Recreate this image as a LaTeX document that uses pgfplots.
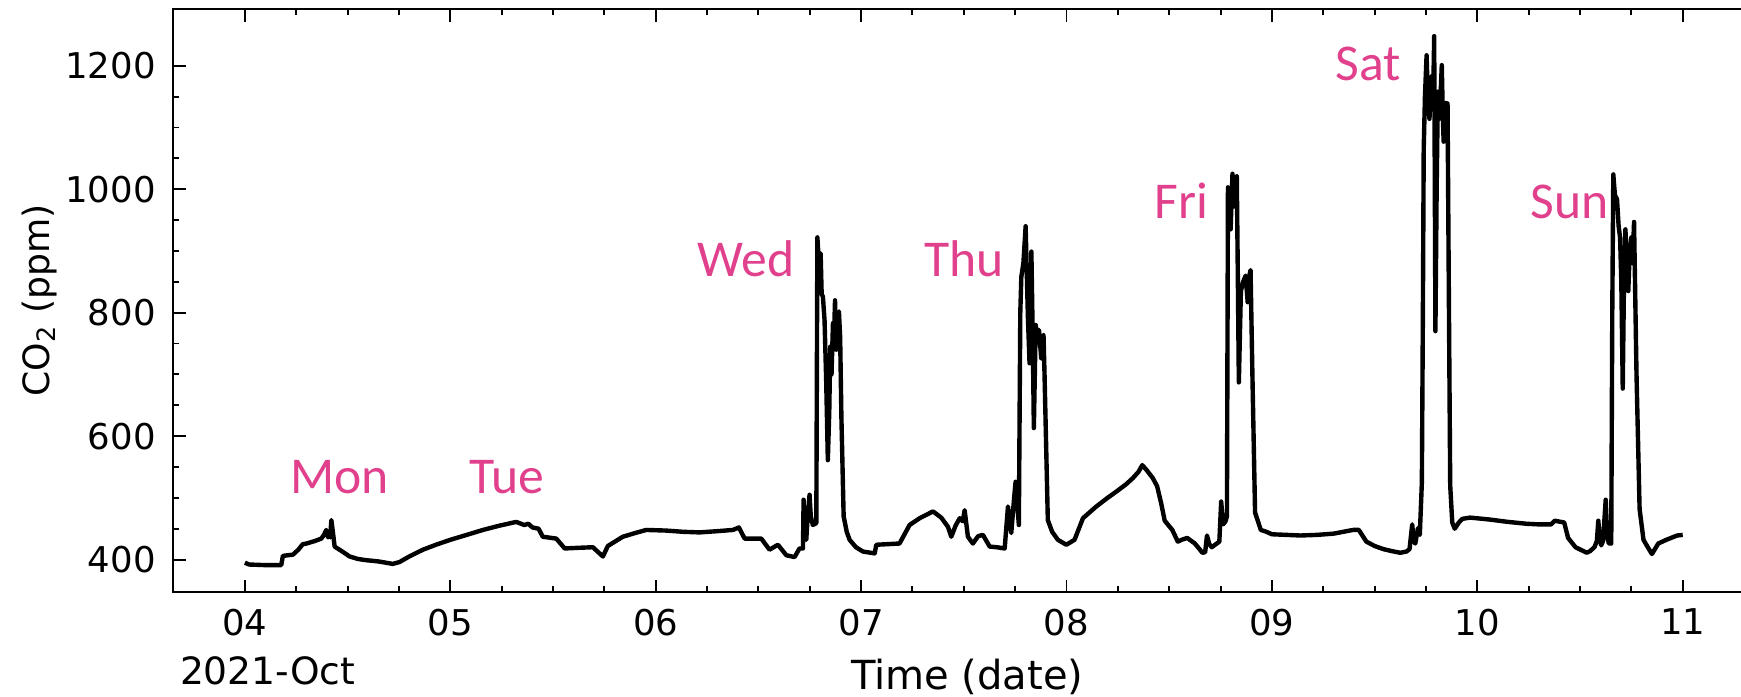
\documentclass[border=0pt]{standalone}
\usepackage{pgfplots}
\pgfplotsset{compat=1.18}
\usepackage{fontspec}
\setmainfont{DejaVu Sans}
\newfontfamily\dayfont{Carlito}
\definecolor{daypink}{RGB}{224,64,140}

\begin{document}
\begin{tikzpicture}
% the reference is cut just inside the right edge of the axis box
\clip (-17.3mm,-10.47mm) rectangle (156.8mm,59.23mm);
\begin{axis}[
    at={(0,0)}, anchor=south west,
    scale only axis,
    width=158.16mm, height=58.33mm,
    xmin=3.65, xmax=11.35,
    ymin=347, ymax=1292,
    xtick={4,5,6,7,8,9,10,11},
    xticklabels={04,05,06,07,08,09,10,11},
    ytick={400,600,800,1000,1200},
    minor x tick num=3,
    minor y tick num=3,
    tick align=inside,
    tick pos=both,
    major tick length=1.27mm,
    minor tick length=0.6mm,
    axis line style={line width=0.55pt},
    every tick/.style={black, line width=0.55pt},
    tick label style={font=\fontsize{10.1}{12}\selectfont},
    /pgf/number format/assume math mode=true,
    /pgf/number format/1000 sep={},
    xticklabel style={yshift=-1.2pt},
    yticklabel style={xshift=-1.4pt},
]

\addplot[black, line width=1.25pt, line join=round] coordinates {
    (4.00,395) (4.02,392) (4.10,391) (4.177,391) (4.185,406) (4.234,408)
    (4.26,416) (4.282,425) (4.30,426) (4.34,430) (4.372,434) (4.385,440)
    (4.396,448) (4.405,436) (4.41,440) (4.415,436) (4.421,464) (4.43,440)
    (4.437,421) (4.47,414) (4.51,405) (4.55,401) (4.59,399) (4.65,397)
    (4.72,393) (4.753,396) (4.80,405) (4.867,416) (4.93,424) (5.0,432)
    (5.08,440) (5.159,448) (5.24,455) (5.321,461) (5.36,456) (5.38,458)
    (5.40,452) (5.43,450) (5.45,437) (5.516,434) (5.557,418) (5.62,419)
    (5.694,420) (5.743,405) (5.767,422) (5.84,437) (5.90,443) (5.954,448)
    (6.05,447) (6.133,445) (6.213,444) (6.30,446) (6.376,448) (6.405,452)
    (6.433,434) (6.514,434) (6.554,416) (6.595,424) (6.636,407) (6.676,404)
    (6.70,418) (6.717,418) (6.72,497) (6.726,440) (6.733,432) (6.74,470)
    (6.749,505) (6.755,470) (6.765,456) (6.782,459) (6.787,922) (6.795,880)
    (6.803,896) (6.808,830) (6.814,826) (6.822,788) (6.83,690) (6.838,561)
    (6.845,640) (6.85,745) (6.856,700) (6.863,783) (6.868,760) (6.873,820)
    (6.879,740) (6.885,790) (6.892,802) (6.898,760) (6.904,632) (6.915,470)
    (6.93,445) (6.944,432) (6.975,420) (7.009,413) (7.066,410) (7.074,424)
    (7.13,425) (7.187,426) (7.236,456) (7.285,467) (7.35,478) (7.39,468)
    (7.423,453) (7.439,437) (7.46,455) (7.48,467) (7.495,462) (7.504,480)
    (7.52,437) (7.544,426) (7.57,438) (7.593,440) (7.626,421) (7.66,420)
    (7.699,418) (7.715,486) (7.731,443) (7.745,500) (7.752,526) (7.768,456)
    (7.775,800) (7.78,858) (7.79,880) (7.801,940) (7.812,793) (7.82,718)
    (7.829,899) (7.836,750) (7.841,613) (7.85,780) (7.858,760) (7.866,772)
    (7.877,726) (7.882,760) (7.888,764) (7.893,700) (7.909,464) (7.93,445)
    (7.958,432) (7.999,424) (8.039,432) (8.08,467) (8.145,486) (8.20,500)
    (8.242,510) (8.29,522) (8.323,532) (8.35,542) (8.369,553) (8.39,545)
    (8.42,532) (8.441,519) (8.461,491) (8.478,463) (8.515,448) (8.542,429)
    (8.56,432) (8.588,435) (8.625,426) (8.662,411) (8.675,412) (8.684,439)
    (8.695,425) (8.707,420) (8.744,429) (8.753,494) (8.762,457) (8.774,462)
    (8.781,470) (8.786,1003) (8.793,960) (8.799,935) (8.808,1025) (8.814,990)
    (8.819,972) (8.824,1000) (8.829,1021) (8.834,860) (8.839,687) (8.849,835)
    (8.86,850) (8.872,860) (8.882,817) (8.89,860) (8.896,869) (8.905,700)
    (8.918,476) (8.946,448) (8.973,445) (9.0,441) (9.07,440) (9.139,439)
    (9.22,440) (9.30,442) (9.395,448) (9.423,448) (9.46,429) (9.50,422)
    (9.542,417) (9.58,414) (9.625,411) (9.655,413) (9.67,417) (9.683,457)
    (9.69,430) (9.698,426) (9.711,451) (9.72,440) (9.73,525) (9.735,800)
    (9.739,1065) (9.745,1150) (9.753,1217) (9.76,1140) (9.767,1114) (9.772,1150)
    (9.778,1183) (9.785,1150) (9.79,1248) (9.796,770) (9.802,1000) (9.808,1158)
    (9.812,1120) (9.817,1114) (9.822,1160) (9.827,1201) (9.832,1120) (9.836,1077)
    (9.842,1140) (9.849,1139) (9.855,1139) (9.862,800) (9.868,520) (9.878,460)
    (9.89,450) (9.91,460) (9.927,466) (9.965,468) (10.056,465) (10.15,461)
    (10.24,458) (10.3,457) (10.359,457) (10.377,463) (10.423,460) (10.442,435)
    (10.478,420) (10.533,411) (10.55,414) (10.57,420) (10.582,430) (10.589,463)
    (10.596,435) (10.603,423) (10.612,430) (10.625,497) (10.632,440) (10.64,426)
    (10.652,426) (10.657,800) (10.662,1024) (10.67,990) (10.68,984) (10.688,940)
    (10.695,922) (10.701,850) (10.708,677) (10.714,850) (10.721,935) (10.728,880)
    (10.735,835) (10.742,900) (10.75,922) (10.756,880) (10.763,947) (10.775,700)
    (10.79,482) (10.809,432) (10.83,420) (10.85,409) (10.881,426) (10.92,432)
    (10.973,439) (11.0,440)
};

% day names
\begin{scope}[every node/.style={anchor=base, inner sep=0pt, text=daypink,
        font=\dayfont\fontsize{14.7}{16}\selectfont}]
\node at (axis cs:4.461,507) {Mon};
\node at (axis cs:5.277,507) {Tue};
\node at (axis cs:6.438,859) {Wed};
\node at (axis cs:7.501,859) {Thu};
\node at (axis cs:8.560,953) {Fri};
\node at (axis cs:9.468,1176) {Sat};
\node at (axis cs:10.449,953) {Sun};
\end{scope}
\end{axis}

% axis labels and offset text
\node[anchor=base west, inner sep=0pt, font=\fontsize{10.7}{12}\selectfont]
    at (0.63mm,-9.27mm) {2021-Oct};
\node[anchor=base, inner sep=0pt, font=\fontsize{11.4}{13}\selectfont]
    at (79.42mm,-9.77mm) {Time (date)};
\node[rotate=90, anchor=north, inner sep=0pt, font=\fontsize{10.3}{12}\selectfont]
    at (-15.2mm,29.2mm) {CO\textsubscript{2} (ppm)};
\end{tikzpicture}
\end{document}
